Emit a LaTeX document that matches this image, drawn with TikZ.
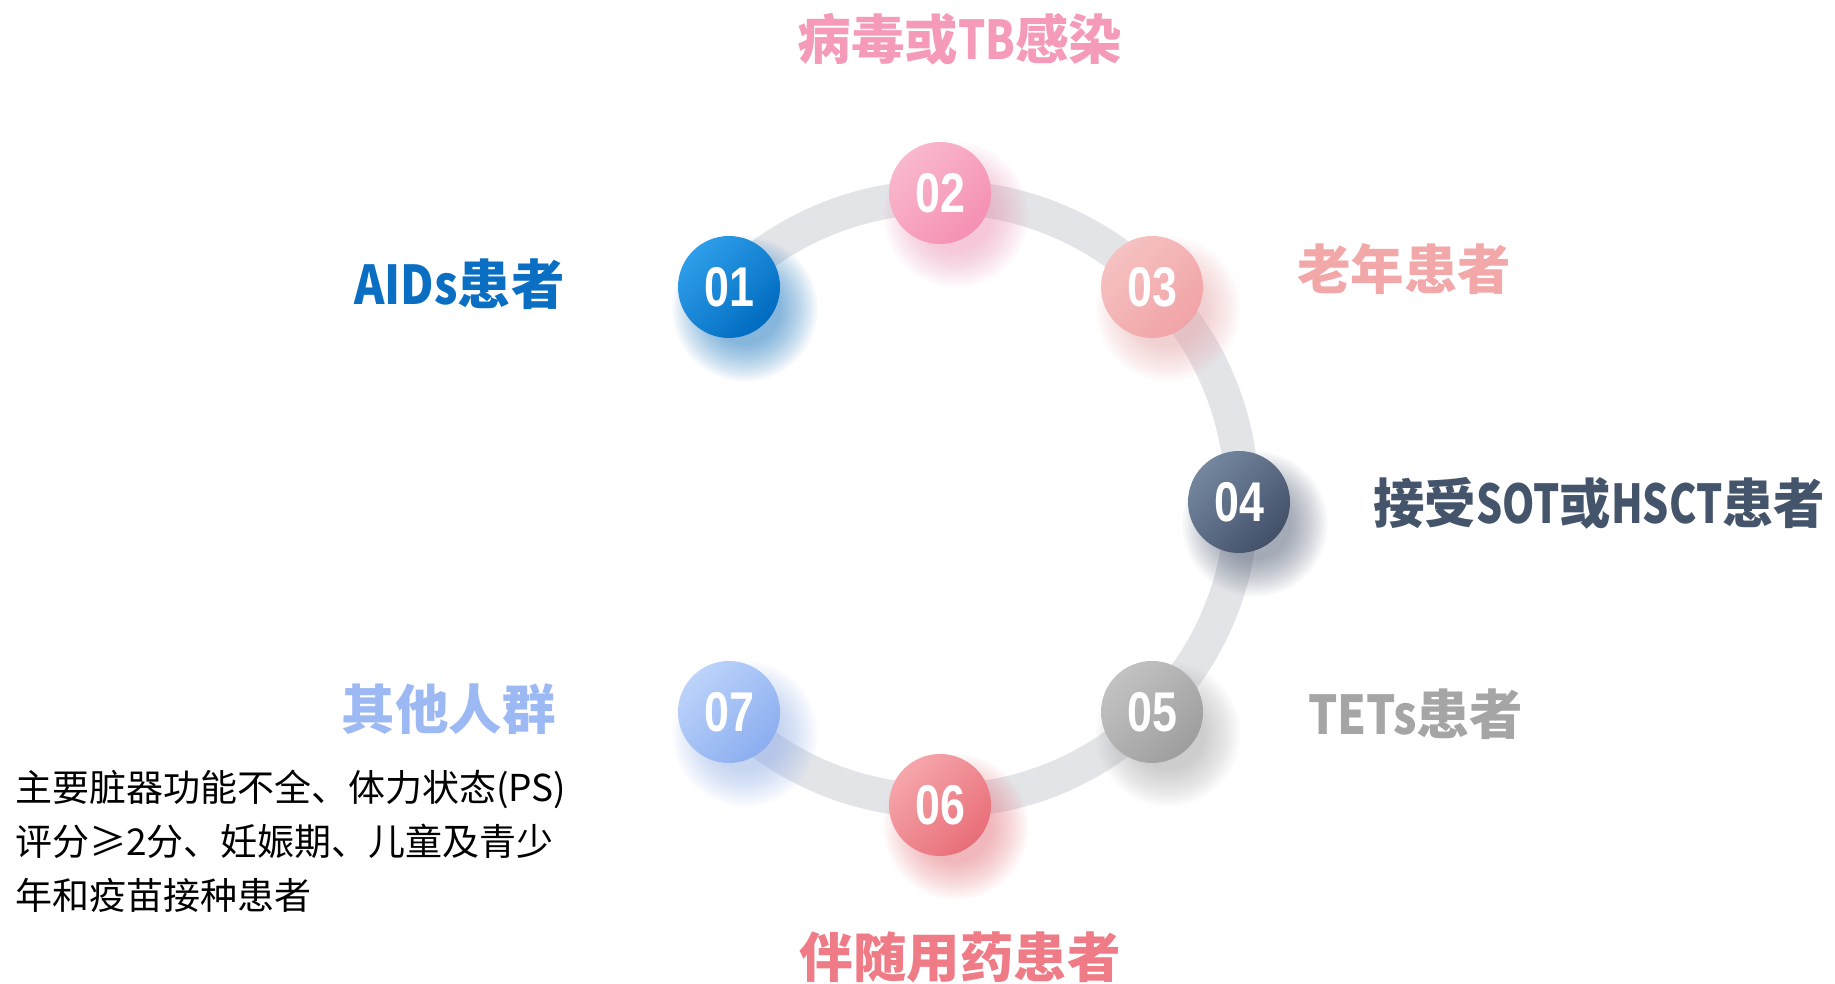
\documentclass[tikz,border=0pt]{standalone}
\usepackage{fontspec}
\usepackage{graphicx}
\setmainfont{Liberation Sans}
\newfontfamily\cjk{Noto Sans CJK SC}
\definecolor{ringgray}{HTML}{E3E4E8}
\definecolor{cA}{HTML}{0A6FC2}
\definecolor{cB}{HTML}{F59AB9}
\definecolor{cC}{HTML}{F2A7A9}
\definecolor{cD}{HTML}{44546A}
\definecolor{cE}{HTML}{A5A5A5}
\definecolor{cF}{HTML}{EE7B85}
\definecolor{cG}{HTML}{9CB9F4}
\definecolor{aL}{HTML}{2E9EEA}\definecolor{aD}{HTML}{006BBF}
\definecolor{bL}{HTML}{F9B8CD}\definecolor{bD}{HTML}{F590B3}
\definecolor{dL}{HTML}{F6C2C2}\definecolor{dD}{HTML}{F1A3A6}
\definecolor{eL}{HTML}{74879F}\definecolor{eD}{HTML}{425068}
\definecolor{fL}{HTML}{C2C2C2}\definecolor{fD}{HTML}{9E9E9E}
\definecolor{gL}{HTML}{F6A6AB}\definecolor{gD}{HTML}{E86E78}
\definecolor{hL}{HTML}{BCD3FA}\definecolor{hD}{HTML}{8CAEF0}
\newcommand{\lat}[2][0.86]{\scalebox{#1}[1]{#2}}
\tikzset{
  head/.style={inner sep=0pt, font=\cjk\bfseries\fontsize{53.5}{60}\selectfont},
  numtxt/.style={text=white, font=\bfseries\fontsize{56}{60}\selectfont},
  bodytxt/.style={inner sep=0pt, align=left, font=\cjk\fontsize{37}{54}\selectfont},
}
\newcommand{\myball}[7]{%
  \foreach \i in {0,...,14}{\fill[#6, opacity=0.04] (#2+16,#3-22) circle[radius={(36+2.6*\i)*1pt}];}
  \shade[top color=#4, bottom color=#5, shading angle=45] (#2,#3) circle[radius=51pt];
  \node[numtxt] (#1) at (#2,#3) {\scalebox{0.8}[1]{#7}};
}
\begin{document}
\begin{tikzpicture}[x=1pt,y=1pt]
\useasboundingbox (0,0) rectangle (1835,984);
\fill[white] (0,0) rectangle (1835,984);
\coordinate (c) at (940,485);
\draw[ringgray, line width=34pt] (c) ++(135:302pt) arc[start angle=135, end angle=-135, radius=302pt];
\myball{n1}{729}{697}{aL}{aD}{aD}{01}
\myball{n2}{940}{791}{bL}{bD}{bD}{02}
\myball{n3}{1152}{697}{dL}{dD}{dD}{03}
\myball{n4}{1239}{482}{eL}{eD}{eD}{04}
\myball{n5}{1152}{272}{fL}{fD}{fD}{05}
\myball{n6}{940}{179}{gL}{gD}{gD}{06}
\myball{n7}{729}{272}{hL}{hD}{hD}{07}
\node[head, text=cB] (t2) at (960,945) {病毒或\lat[0.8]{TB}感染};
\node[head, text=cA, anchor=east] (t1) at (565,700) {\lat{AIDs}患者};
\node[head, text=cC, anchor=west] (t3) at (1297,715) {老年患者};
\node[head, text=cD, anchor=west] (t4) at (1373,481) {\resizebox{452pt}{\height}{接受\lat[0.8]{SOT}或\lat[0.8]{HSCT}患者}};
\node[head, text=cE, anchor=west] (t5) at (1308,270) {\lat{TETs}患者};
\node[head, text=cG, anchor=east] (t7) at (556,275) {其他人群};
\node[head, text=cF] (t6) at (960,27) {伴随用药患者};
\node[bodytxt, anchor=west] (b7) at (15,143) {主要脏器功能不全、体力状态(PS)\\评分≥2分、妊娠期、儿童及青少\\年和疫苗接种患者};
\end{tikzpicture}
\end{document}
